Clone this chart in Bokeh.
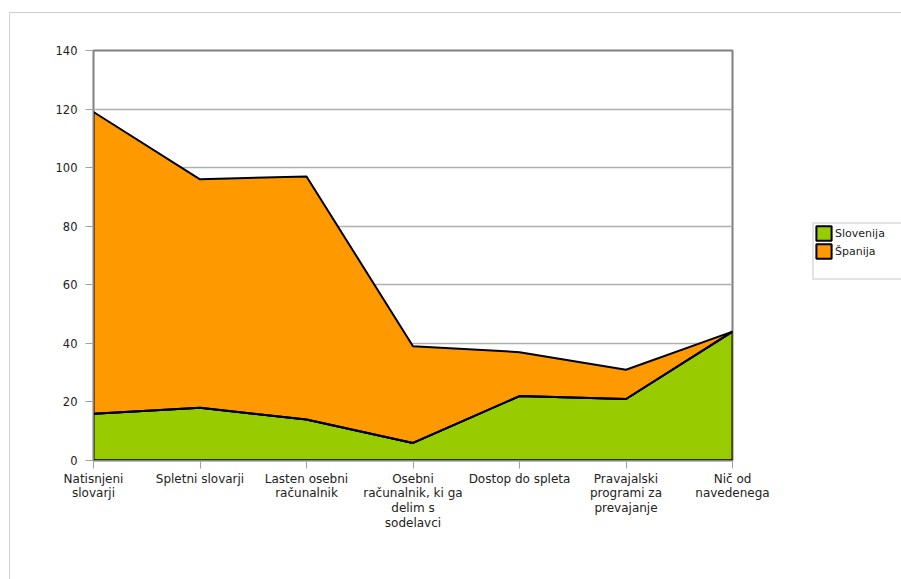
from bokeh.plotting import figure
from bokeh.layouts import row
from bokeh.models import Legend, LegendItem, FixedTicker
from bokeh.embed import file_html
from bokeh.resources import INLINE

# Categories and counts per country (stacked: Slovenija below, Španija on top)
categories = [
    "Natisnjeni\nslovarji",
    "Spletni slovarji",
    "Lasten osebni\nračunalnik",
    "Osebni\nračunalnik, ki ga\ndelim s\nsodelavci",
    "Dostop do spleta",
    "Pravajalski\nprogrami za\nprevajanje",
    "Nič od\nnavedenega",
]
slovenija = [16, 18, 14, 6, 22, 21, 44]
spanija = [103, 78, 83, 33, 15, 10, 0]
y_ticks = [0, 20, 40, 60, 80, 100, 120, 140]
series_names = ["Slovenija", "Španija"]
series_colors = ["#99cc00", "#ff9900"]

xs = list(range(len(categories)))
totals = [a + b for a, b in zip(slovenija, spanija)]

FONT = "DejaVu Sans"

# ---- main chart ----
p = figure(
    width=772, height=567,
    x_range=(0, len(categories) - 1), y_range=(0, 140),
    output_backend="svg", toolbar_location=None,
    min_border_left=83, min_border_right=50,
    min_border_top=37, min_border_bottom=120,
)
p.outline_line_color = "#808080"
p.outline_line_width = 2

# Stacked areas as outlined polygons
p.patch(
    xs + xs[::-1], slovenija + [0] * len(xs),
    fill_color=series_colors[0], line_color="black", line_width=2,
)
p.patch(
    xs + xs[::-1], totals + slovenija[::-1],
    fill_color=series_colors[1], line_color="black", line_width=2,
)
# keep the green area's border on top of the orange one
p.line(xs, slovenija, line_color="black", line_width=2)
p.line(xs, [0] * len(xs), line_color="black", line_width=2)

# Axes
p.yaxis.ticker = FixedTicker(ticks=y_ticks)
p.xaxis.ticker = FixedTicker(ticks=xs)
p.xaxis.major_label_overrides = {i: c for i, c in enumerate(categories)}
for ax in (p.xaxis[0], p.yaxis[0]):
    ax.axis_line_color = "#808080"
    ax.axis_line_width = 1
    ax.major_tick_line_color = "#a0a0a0"
    ax.major_tick_in = 0
    ax.major_tick_out = 8
    ax.minor_tick_line_color = None
    ax.major_label_text_font = FONT
    ax.major_label_text_font_size = "12px"
    ax.major_label_text_color = "#222222"
    ax.major_label_text_line_height = 1.05
p.yaxis.major_label_text_font_size = "11.5px"
p.xaxis.major_label_standoff = 3
p.yaxis.major_label_standoff = 8

p.xgrid.grid_line_color = None
p.ygrid.grid_line_color = "#b0b0b0"
p.ygrid.grid_line_width = 1.5

# ---- legend panel to the right of the chart ----
lf = figure(
    width=119, height=567, x_range=(0, 1), y_range=(0, 1),
    output_backend="svg", toolbar_location=None,
    min_border=0, outline_line_color=None,
)
lf.axis.visible = False
lf.grid.visible = False
# swatch renderers sit outside the visible range; only their legend glyphs show
swatches = [
    lf.patch([5, 6, 6], [5, 5, 6], fill_color=c, line_color="black", line_width=2)
    for c in series_colors
]
blank = lf.patch([5, 6, 6], [5, 5, 6], fill_alpha=0, line_alpha=0)
items = [LegendItem(label=n, renderers=[r]) for n, r in zip(series_names, swatches)]
items.append(LegendItem(label=" ", renderers=[blank]))

legend = Legend(
    items=items,
    location=(30, 180),
    orientation="vertical",
    padding=0, spacing=0, margin=0,
    glyph_width=19, glyph_height=18,
    label_height=18, label_width=80, label_standoff=2,
    label_text_font=FONT, label_text_font_size="11px",
    label_text_color="#222222",
    border_line_color="#c8c8c8", border_line_width=2,
    background_fill_alpha=1.0,
)
lf.add_layout(legend, "center")

layout = row(
    p, lf,
    margin=(12, 0, 0, 9),
    styles={"border-top": "1px solid #cfcfcf", "border-left": "1px solid #cfcfcf"},
)

open("out.html", "w").write(file_html(layout, INLINE))
